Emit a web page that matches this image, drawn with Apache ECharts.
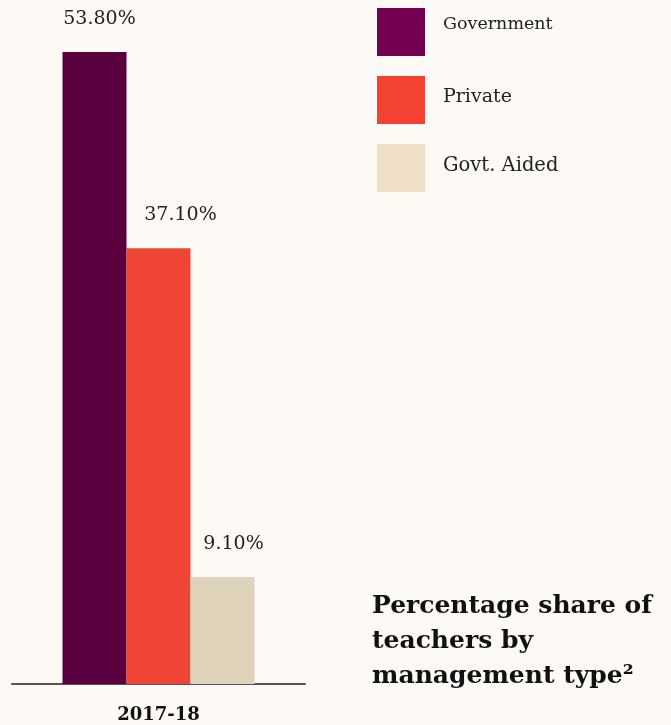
<!DOCTYPE html>
<html>
<head>
<meta charset="utf-8">
<script src="https://cdn.jsdelivr.net/npm/echarts@6/dist/echarts.min.js"></script>
<style>
html,body{margin:0;padding:0;background:#fdfaf5;}
#c{width:671px;height:725px;}
</style>
</head>
<body>
<div id="c"></div>
<script>
const categories = ['2017-18'];
const seriesNames = ['Government', 'Private', 'Govt. Aided'];
const governmentValues = [53.8];
const privateValues = [37.1];
const aidedValues = [9.1];
const barColors = ['#5a003f', '#f04534', '#dfd3bb'];
const legendColors = ['#730050', '#f44332', '#f0e0c8'];
const labelOffsets = [5, 22, 11];
const titleLines = ['Percentage share of', 'teachers by', 'management type²'];

const font = '"DejaVu Serif", serif';
const values = [governmentValues, privateValues, aidedValues];
const legendShift = [16, 6, 4];
const legendSizes = [17.5, 19, 19.5];

const rich = {};
seriesNames.forEach((n, i) => {
  rich['t' + i] = {fontFamily: font, fontSize: legendSizes[i], color: '#222', padding: [0, 0, legendShift[i], 0]};
});

const chart = echarts.init(document.getElementById('c'));
chart.setOption({
  backgroundColor: '#fdfaf5',
  animation: false,
  grid: {left: 12, right: 366, top: 38, bottom: 41},
  xAxis: {
    type: 'category',
    data: categories,
    axisLine: {lineStyle: {color: '#555', width: 2}},
    axisTick: {show: false},
    axisLabel: {fontFamily: font, fontWeight: 'bold', fontSize: 18, color: '#111', margin: 22}
  },
  yAxis: {type: 'value', min: 0, max: 55, show: false, splitLine: {show: false}},
  legend: {
    orient: 'vertical', left: 377, top: 8, padding: 0,
    itemWidth: 48, itemHeight: 48, itemGap: 20, icon: 'rect',
    selectedMode: false,
    formatter: name => '{t' + seriesNames.indexOf(name) + '|' + name + '}',
    textStyle: {rich: rich, padding: [0, 0, 0, 13]},
    data: seriesNames.map((n, i) => ({
      name: n,
      itemStyle: {color: legendColors[i], borderWidth: 0}
    }))
  },
  series: seriesNames.map((n, i) => ({
    name: n,
    type: 'bar',
    data: values[i],
    barWidth: 64,
    barGap: '0%',
    itemStyle: {color: barColors[i]},
    label: {
      show: true, position: 'top', distance: 24,
      offset: [labelOffsets[i], 0],
      fontFamily: font, fontSize: 19, color: '#222',
      formatter: p => p.value.toFixed(2) + '%'
    }
  })),
  graphic: titleLines.map((t, i) => ({
    type: 'text', left: 372, top: 594 + i * 35,
    style: {text: t, fontFamily: font, fontWeight: 'bold', fontSize: 25, fill: '#111'}
  }))
});
</script>
</body>
</html>
